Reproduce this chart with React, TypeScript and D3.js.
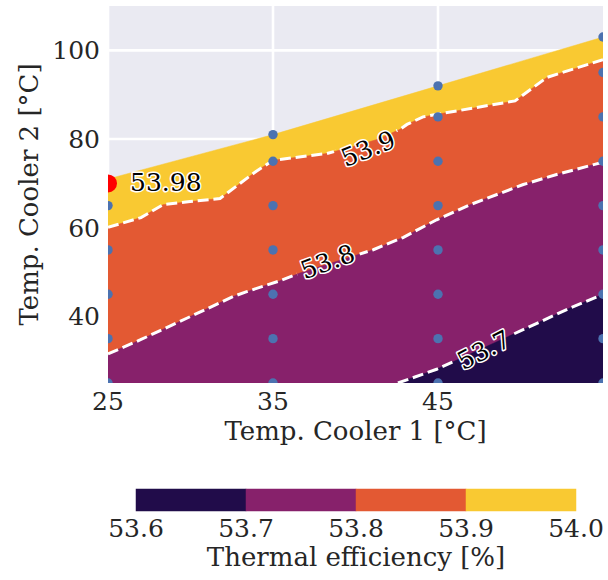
import React from "react";
import * as d3 from "d3";

// ---------- data ----------
const xTicks = [25, 35, 45];
const yTicks = [40, 60, 80, 100];
const levels = [53.6, 53.7, 53.8, 53.9, 54.0];
const levelColors = ["#210c4a", "#87216b", "#e35933", "#f9c932"];

// sample points (columns of Temp. Cooler 1, values of Temp. Cooler 2)
const sampleX = [25, 35, 45, 55];
const sampleY25 = [25, 35, 45, 55, 65];
const sampleY35 = [25, 35, 45, 55, 65, 75, 81];
const sampleY45 = [25, 35, 45, 55, 65, 75, 85, 92];
const sampleY55 = [25, 35, 45, 55, 65, 75, 85, 95, 103];
const sampleCols = [sampleY25, sampleY35, sampleY45, sampleY55];

// upper feasibility boundary of the sampled domain
const hullTopX = [25, 35, 45, 55];
const hullTopY = [71, 81, 92, 103];

// iso-lines of thermal efficiency [x, y]
const contour539: [number, number][] = [
  [25, 60.1], [27.0, 62.3], [28.33, 65.2], [29.97, 65.9], [31.79, 66.6],
  [33.97, 72.7], [35.0, 75.2], [38.27, 76.75], [39.85, 78.3], [41.3, 79.9],
  [42.7, 82.2], [43.12, 83.3], [44.09, 85.0], [45.12, 85.7], [49.67, 88.6],
  [51.6, 93.9], [55, 97.9],
];
const contour538: [number, number][] = [
  [25, 31.55], [26.94, 34.7], [29.77, 39.6], [32.59, 44.5], [33.41, 45.6],
  [35.42, 48.05], [36.64, 49.8], [41.08, 55.05], [42.88, 57.8], [44.92, 61.8],
  [46.94, 65.2], [50.17, 69.75], [52.19, 72.0], [55, 74.8],
];
const contour537: [number, number][] = [
  [42.57, 25], [44.92, 28.1], [50.38, 37.4], [53.0, 41.9], [55, 45],
];

const contourLabelText = ["53.9", "53.8", "53.7"];
const contourLabelX = [40.76, 38.3, 47.77];
const contourLabelY = [77.9, 52.4, 32.5];
const contourLabelAngle = [-22, -20, -27];

const optX = 25;
const optY = 70;
const optValue = "53.98";

// ---------- layout ----------
const W = 608;
const H = 580;
const plot = { left: 108, right: 603, top: 6, bottom: 383 };
const cbar = { left: 136, right: 576, top: 489, bottom: 511 };
const FONT = "'DejaVu Serif', serif";
const FS_TICK = 25;
const FS_LABEL = 26;
const FS_CL = 25;
const TXT = "#262626";

const x = d3.scaleLinear().domain([25, 55]).range([plot.left, plot.right]);
const y = d3.scaleLinear().domain([25, 110]).range([plot.bottom, plot.top]);
const cx = d3.scaleLinear().domain([53.6, 54.0]).range([cbar.left, cbar.right]);

const line = d3
  .line<[number, number]>()
  .x((d) => x(d[0]))
  .y((d) => y(d[1]));

function textWidth(s: string, fs: number) {
  let w = 0;
  for (const ch of s) w += ch === "." ? 0.318 : 0.636;
  return w * fs;
}

export default function App() {
  const hull: [number, number][] = [
    [25, 25],
    [55, 25],
    ...hullTopX.map((v, i) => [v, hullTopY[i]] as [number, number]).reverse(),
  ];
  const below = (c: [number, number][]): [number, number][] => {
    const last = c[c.length - 1];
    const first = c[0];
    const pts: [number, number][] = [...c, [last[0], 25]];
    if (first[0] > 25 || first[1] > 25) pts.push([25, 25]);
    return pts;
  };
  const fills: { pts: [number, number][]; color: string }[] = [
    { pts: hull, color: levelColors[3] },
    { pts: below(contour539), color: levelColors[2] },
    { pts: below(contour538), color: levelColors[1] },
    { pts: [...contour537, [55, 25]], color: levelColors[0] },
  ];
  const contours = [contour539, contour538, contour537];
  const labels = contourLabelText.map((t, i) => ({
    t,
    px: x(contourLabelX[i]),
    py: y(contourLabelY[i]),
    a: contourLabelAngle[i],
    w: textWidth(t, FS_CL),
  }));
  const points: [number, number][] = [];
  sampleX.forEach((sx, i) => sampleCols[i].forEach((sy) => points.push([sx, sy])));

  return (
    <svg
      width={W}
      height={H}
      style={{ position: "absolute", left: 0, top: 0, display: "block", background: "#fff" }}
      fontFamily={FONT}
    >
      <defs>
        <clipPath id="plotClip">
          <rect x={plot.left} y={plot.top} width={plot.right - plot.left} height={plot.bottom - plot.top} />
        </clipPath>
        <mask id="lblMask" maskUnits="userSpaceOnUse" x={0} y={0} width={W} height={H}>
          <rect x={0} y={0} width={W} height={H} fill="white" />
          {labels.map((l, i) => (
            <rect
              key={i}
              transform={`translate(${l.px},${l.py}) rotate(${l.a})`}
              x={-l.w / 2 - 5}
              y={-FS_CL * 0.45}
              width={l.w + 10}
              height={FS_CL * 0.9}
              fill="black"
            />
          ))}
        </mask>
      </defs>

      {/* axes background */}
      <rect x={plot.left} y={plot.top} width={plot.right - plot.left} height={plot.bottom - plot.top} fill="#eaeaf2" />
      {/* grid */}
      {xTicks.map((t) => (
        <line key={"gx" + t} x1={x(t)} x2={x(t)} y1={plot.top} y2={plot.bottom} stroke="#fff" strokeWidth={2.6} />
      ))}
      {yTicks.map((t) => (
        <line key={"gy" + t} x1={plot.left} x2={plot.right} y1={y(t)} y2={y(t)} stroke="#fff" strokeWidth={2.6} />
      ))}

      <g clipPath="url(#plotClip)">
        {fills.map((f, i) => (
          <path key={i} d={line(f.pts) + "Z"} fill={f.color} stroke={f.color} strokeWidth={0.5} />
        ))}
        <g mask="url(#lblMask)">
          {contours.map((c, i) => (
            <path
              key={i}
              d={line(c) || ""}
              fill="none"
              stroke="#fff"
              strokeWidth={3}
              strokeDasharray="11,4.8"
            />
          ))}
        </g>
        {points.map((p, i) => (
          <circle key={i} cx={x(p[0])} cy={y(p[1])} r={4.7} fill="#4c72b0" />
        ))}
        <circle cx={x(optX)} cy={y(optY)} r={9} fill="#ff0000" />
      </g>

      {/* contour labels */}
      {labels.map((l, i) => (
        <text
          key={i}
          transform={`translate(${l.px},${l.py}) rotate(${l.a})`}
          textAnchor="middle"
          dy="0.36em"
          fontSize={FS_CL}
          fill="#000"
          stroke="#fff"
          strokeWidth={3}
          paintOrder="stroke"
          strokeLinejoin="round"
        >
          {l.t}
        </text>
      ))}
      <text
        x={x(optX) + 22}
        y={y(optY) + 8}
        fontSize={FS_CL}
        fill="#000"
        stroke="#fff"
        strokeWidth={3}
        paintOrder="stroke"
        strokeLinejoin="round"
      >
        {optValue}
      </text>

      {/* x axis */}
      {xTicks.map((t) => (
        <text key={"xt" + t} x={x(t)} y={409.5} textAnchor="middle" fontSize={FS_TICK} fill={TXT}>
          {t}
        </text>
      ))}
      <text x={(plot.left + plot.right) / 2} y={439.5} textAnchor="middle" fontSize={FS_LABEL} fill={TXT}>
        Temp. Cooler 1 [°C]
      </text>

      {/* y axis */}
      {yTicks.map((t) => (
        <text key={"yt" + t} x={100} y={y(t)} dy="0.36em" textAnchor="end" fontSize={FS_TICK} fill={TXT}>
          {t}
        </text>
      ))}
      <text
        transform={`translate(38,${(plot.top + plot.bottom) / 2}) rotate(-90)`}
        textAnchor="middle"
        fontSize={FS_LABEL}
        fill={TXT}
      >
        Temp. Cooler 2 [°C]
      </text>

      {/* colorbar */}
      {levelColors.map((c, i) => (
        <rect
          key={"cb" + i}
          x={cx(levels[i])}
          y={cbar.top}
          width={cx(levels[i + 1]) - cx(levels[i])}
          height={cbar.bottom - cbar.top}
          fill={c}
          stroke={c}
          strokeWidth={0.5}
        />
      ))}
      {levels.map((l) => (
        <text key={"cl" + l} x={cx(l)} y={537} textAnchor="middle" fontSize={FS_TICK} fill={TXT}>
          {l.toFixed(1)}
        </text>
      ))}
      <text x={(cbar.left + cbar.right) / 2} y={566} textAnchor="middle" fontSize={FS_LABEL} fill={TXT}>
        Thermal efficiency [%]
      </text>
    </svg>
  );
}
